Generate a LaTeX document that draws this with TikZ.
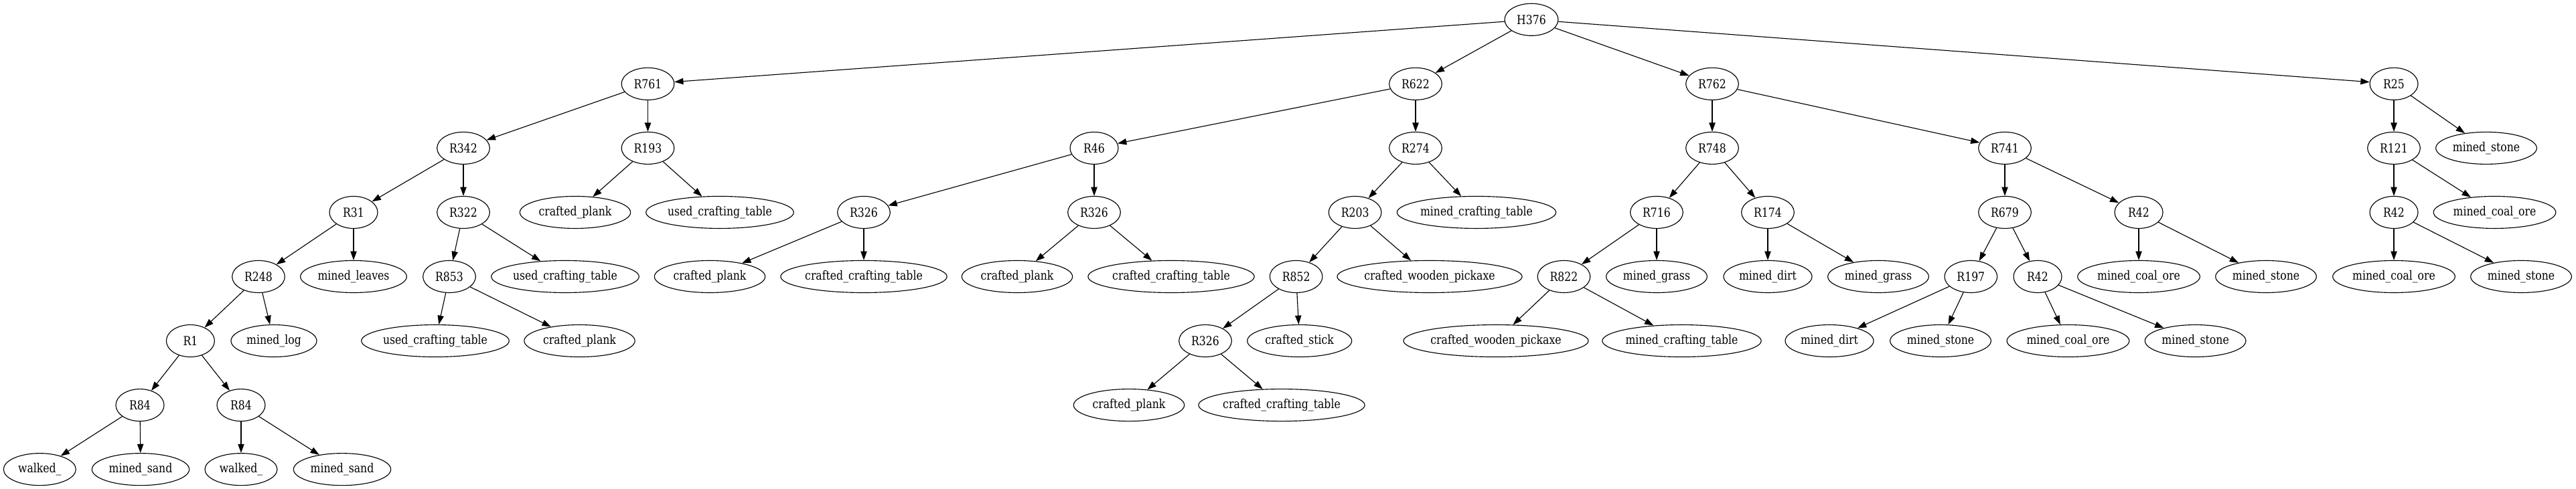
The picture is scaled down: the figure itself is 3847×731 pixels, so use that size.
\documentclass[tikz,border=0pt]{standalone}
\usepackage{fontspec}
\setmainfont{DejaVu Serif}[FakeStretch=0.84]
\usetikzlibrary{shapes.geometric,arrows.meta}
\tikzset{
  nd/.style={ellipse, draw, line width=0.85pt, minimum height=36pt, minimum width=#1, inner sep=0pt, font=\fontsize{14}{16}\selectfont},
  ed/.style={line width=0.85pt, -{Triangle[length=10pt,width=7pt]}}
}
\begin{document}
\begin{tikzpicture}[x=0.75pt,y=-0.75pt]
\useasboundingbox (0,0) rectangle (3847,731);
% level 0
\node[nd=60pt] (H376) at (2287,29.3) {H376};
% level 1
\node[nd=59pt] (R761) at (967.5,125.35) {R761};
\node[nd=59pt] (R622) at (2114,125.35) {R622};
\node[nd=59pt] (R762) at (2557,125.35) {R762};
\node[nd=54pt] (R25) at (3575,125.35) {R25};
% level 2
\node[nd=59pt] (R342) at (692,221.4) {R342};
\node[nd=59pt] (R193) at (967.5,221.4) {R193};
\node[nd=54pt] (R46) at (1634,221.4) {R46};
\node[nd=59pt] (R274) at (2114,221.4) {R274};
\node[nd=59pt] (R748) at (2557,221.4) {R748};
\node[nd=59pt] (R741) at (2994,221.4) {R741};
\node[nd=59pt] (R121) at (3575,221.4) {R121};
\node[nd=113pt] (ms4) at (3713,221.4) {mined\_stone};
% level 3
\node[nd=54pt] (R31) at (528,317.45) {R31};
\node[nd=59pt] (R322) at (692,317.45) {R322};
\node[nd=124pt] (cp1) at (859,317.45) {crafted\_plank};
\node[nd=165pt] (uct1) at (1075,317.45) {used\_crafting\_table};
\node[nd=59pt] (R326a) at (1290,317.45) {R326};
\node[nd=59pt] (R326b) at (1634,317.45) {R326};
\node[nd=59pt] (R203) at (2023.6,317.45) {R203};
\node[nd=176pt] (mct1) at (2205,317.45) {mined\_crafting\_table};
\node[nd=59pt] (R716) at (2474,317.45) {R716};
\node[nd=59pt] (R174) at (2640,317.45) {R174};
\node[nd=59pt] (R679) at (2994,317.45) {R679};
\node[nd=54pt] (R42a) at (3194,317.45) {R42};
\node[nd=54pt] (R42c) at (3575,317.45) {R42};
\node[nd=137pt] (mco3) at (3725.5,317.45) {mined\_coal\_ore};
% level 4
\node[nd=59pt] (R248) at (386,413.5) {R248};
\node[nd=119pt] (ml) at (528,413.5) {mined\_leaves};
\node[nd=59pt] (R853) at (671,413.5) {R853};
\node[nd=165pt] (uct2) at (844,413.5) {used\_crafting\_table};
\node[nd=124pt] (cp3) at (1060,413.5) {crafted\_plank};
\node[nd=184pt] (cct1) at (1290,413.5) {crafted\_crafting\_table};
\node[nd=124pt] (cp4) at (1519,413.5) {crafted\_plank};
\node[nd=184pt] (cct2) at (1749,413.5) {crafted\_crafting\_table};
\node[nd=59pt] (R852) at (1935.6,413.5) {R852};
\node[nd=204pt] (cwp1) at (2135,413.5) {crafted\_wooden\_pickaxe};
\node[nd=59pt] (R822) at (2335.5,413.5) {R822};
\node[nd=113pt] (mg1) at (2474,413.5) {mined\_grass};
\node[nd=99pt] (md1) at (2640,413.5) {mined\_dirt};
\node[nd=113pt] (mg2) at (2805,413.5) {mined\_grass};
\node[nd=59pt] (R197) at (2943.3,413.5) {R197};
\node[nd=54pt] (R42b) at (3043,413.5) {R42};
\node[nd=137pt] (mco2) at (3194,413.5) {mined\_coal\_ore};
\node[nd=113pt] (ms3) at (3384,413.5) {mined\_stone};
\node[nd=137pt] (mco4) at (3575,413.5) {mined\_coal\_ore};
\node[nd=113pt] (ms5) at (3765,413.5) {mined\_stone};
% level 5
\node[nd=54pt] (R1) at (284.4,509.55) {R1};
\node[nd=96pt] (mlog) at (409,509.55) {mined\_log};
\node[nd=165pt] (uct3) at (650,509.55) {used\_crafting\_table};
\node[nd=124pt] (cp2) at (865.5,509.55) {crafted\_plank};
\node[nd=59pt] (R326c) at (1800,509.55) {R326};
\node[nd=117pt] (cs) at (1940.7,509.55) {crafted\_stick};
\node[nd=204pt] (cwp2) at (2234,509.55) {crafted\_wooden\_pickaxe};
\node[nd=176pt] (mct2) at (2511.5,509.55) {mined\_crafting\_table};
\node[nd=99pt] (md2) at (2732,509.55) {mined\_dirt};
\node[nd=113pt] (ms1) at (2898,509.55) {mined\_stone};
\node[nd=137pt] (mco1) at (3088.4,509.55) {mined\_coal\_ore};
\node[nd=113pt] (ms2) at (3278.6,509.55) {mined\_stone};
% level 6
\node[nd=54pt] (R84a) at (209,605.6) {R84};
\node[nd=54pt] (R84b) at (360,605.6) {R84};
\node[nd=124pt] (cp5) at (1686,605.6) {crafted\_plank};
\node[nd=184pt] (cct3) at (1914,605.6) {crafted\_crafting\_table};
% level 7
\node[nd=81pt] (wa) at (59.3,701.65) {walked\_};
\node[nd=109pt] (msa) at (210,701.65) {mined\_sand};
\node[nd=81pt] (wb) at (360,701.65) {walked\_};
\node[nd=109pt] (msb) at (511,701.65) {mined\_sand};
% edges
\foreach \a/\b in {H376/R761,H376/R622,H376/R762,H376/R25,
  R761/R342,R761/R193,R342/R31,R342/R322,R193/cp1,R193/uct1,
  R31/R248,R31/ml,R322/R853,R322/uct2,R248/R1,R248/mlog,
  R853/uct3,R853/cp2,R1/R84a,R1/R84b,R84a/wa,R84a/msa,R84b/wb,R84b/msb,
  R622/R46,R622/R274,R46/R326a,R46/R326b,R326a/cp3,R326a/cct1,
  R326b/cp4,R326b/cct2,R274/R203,R274/mct1,R203/R852,R203/cwp1,
  R852/R326c,R852/cs,R326c/cp5,R326c/cct3,
  R762/R748,R762/R741,R748/R716,R748/R174,R716/R822,R716/mg1,
  R822/cwp2,R822/mct2,R174/md1,R174/mg2,R741/R679,R741/R42a,
  R679/R197,R679/R42b,R197/md2,R197/ms1,R42b/mco1,R42b/ms2,
  R42a/mco2,R42a/ms3,R25/R121,R25/ms4,R121/R42c,R121/mco3,
  R42c/mco4,R42c/ms5}
  \draw[ed] (\a) -- (\b);
\end{tikzpicture}
\end{document}
